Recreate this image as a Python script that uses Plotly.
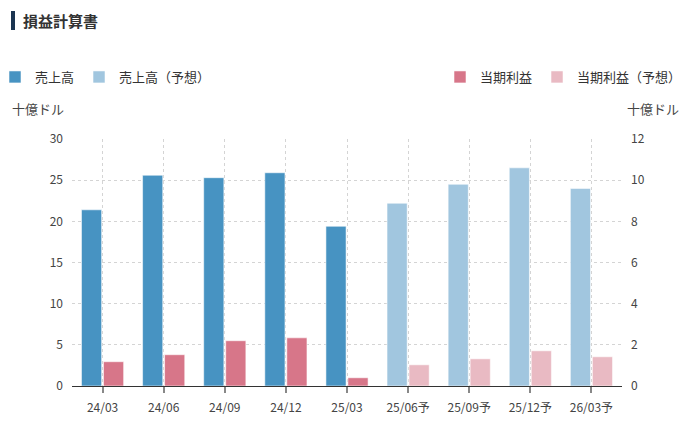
import plotly.graph_objects as go

quarters = ["24/03", "24/06", "24/09", "24/12", "25/03"]
forecast_quarters = ["25/06予", "25/09予", "25/12予", "26/03予"]

sales = [21.4, 25.6, 25.3, 25.9, 19.4]
sales_forecast = [22.2, 24.5, 26.5, 24.0]
profit = [1.18, 1.52, 2.20, 2.34, 0.40]
profit_forecast = [1.03, 1.32, 1.71, 1.42]

left_ticks = [0, 5, 10, 15, 20, 25, 30]
right_ticks = [0, 2, 4, 6, 8, 10, 12]

FONT = "Noto Sans CJK JP"
BLUE = "#4793c2"
LIGHT_BLUE = "#a1c6df"
PINK = "#d77689"
LIGHT_PINK = "#e9bac3"
EDGE = dict(width=1, color="rgba(255,255,255,0.55)")

# plot area in pixels
L, R, T, B = 72, 62, 139, 36
PW = 684 - L - R
PH = 422 - T - B


def px_x(x):
    return (x - L) / PW


def px_y(y):
    return 1 - (y - T) / PH


fig = go.Figure()

fig.add_trace(go.Bar(x=quarters, y=sales, name="売上高", marker=dict(color=BLUE, line=EDGE),
                     width=0.33, offset=-0.345, legend="legend"))
fig.add_trace(go.Bar(x=forecast_quarters, y=sales_forecast, name="売上高（予想）",
                     marker=dict(color=LIGHT_BLUE, line=EDGE),
                     width=0.33, offset=-0.345, legend="legend"))
fig.add_trace(go.Bar(x=quarters, y=profit, name="当期利益", marker=dict(color=PINK, line=EDGE),
                     width=0.33, offset=0.015, yaxis="y2", legend="legend2"))
fig.add_trace(go.Bar(x=forecast_quarters, y=profit_forecast, name="当期利益（予想）",
                     marker=dict(color=LIGHT_PINK, line=EDGE),
                     width=0.33, offset=0.015, yaxis="y2", legend="legend2"))

legend_style = dict(orientation="h", yanchor="middle", xref="paper", yref="paper",
                    font=dict(size=13, color="#333", family=FONT), bgcolor="rgba(0,0,0,0)",
                    itemwidth=30, tracegroupgap=0, itemclick=False, itemdoubleclick=False)

fig.update_layout(
    width=684, height=422,
    margin=dict(l=L, r=R, t=T, b=B, autoexpand=False),
    paper_bgcolor="white", plot_bgcolor="white",
    font=dict(family=FONT, size=12, color="#555"),
    barmode="overlay",
    legend=dict(x=px_x(-5), y=px_y(77), xanchor="left", **legend_style),
    legend2=dict(x=px_x(687), y=px_y(77), xanchor="right", **legend_style),
    xaxis=dict(
        categoryorder="array", categoryarray=quarters + forecast_quarters,
        showgrid=True, gridcolor="#d4d4d4", griddash="dot", gridwidth=1,
        showline=True, linecolor="#333", linewidth=1,
        ticks="outside", ticklen=6, tickwidth=2, tickcolor="#888",
        ticklabelstandoff=5, automargin=False,
        tickfont=dict(size=12, color="#444"),
        fixedrange=True,
    ),
    yaxis=dict(
        range=[0, 30], tickvals=left_ticks, showgrid=True, gridcolor="#d4d4d4",
        griddash="dot", zeroline=False, ticks="", ticklabelstandoff=8, automargin=False,
        tickfont=dict(size=12, color="#444"), fixedrange=True,
    ),
    yaxis2=dict(
        range=[0, 12], tickvals=right_ticks, overlaying="y", side="right",
        showgrid=False, zeroline=False, ticks="", ticklabelstandoff=8, automargin=False,
        tickfont=dict(size=12, color="#444"), fixedrange=True,
    ),
    showlegend=True,
)

# title with bar marker
fig.add_shape(type="rect", xref="paper", yref="paper", x0=px_x(11), x1=px_x(15),
              y0=px_y(30), y1=px_y(11), fillcolor="#1b3551", line=dict(width=0))
fig.add_annotation(text="<b>損益計算書</b>", xref="paper", yref="paper",
                   x=px_x(21), y=px_y(20), xanchor="left", yanchor="middle",
                   showarrow=False, font=dict(size=15, color="#333", family=FONT))

# axis unit labels
fig.add_annotation(text="十億ドル", xref="paper", yref="paper", x=px_x(10), y=px_y(108),
                   xanchor="left", yanchor="middle", showarrow=False,
                   font=dict(size=13, color="#444", family=FONT))
fig.add_annotation(text="十億ドル", xref="paper", yref="paper", x=px_x(681), y=px_y(108),
                   xanchor="right", yanchor="middle", showarrow=False,
                   font=dict(size=13, color="#444", family=FONT))

fig.write_html("out.html", config={"displayModeBar": False},
               post_script="document.body.style.margin='0';")
